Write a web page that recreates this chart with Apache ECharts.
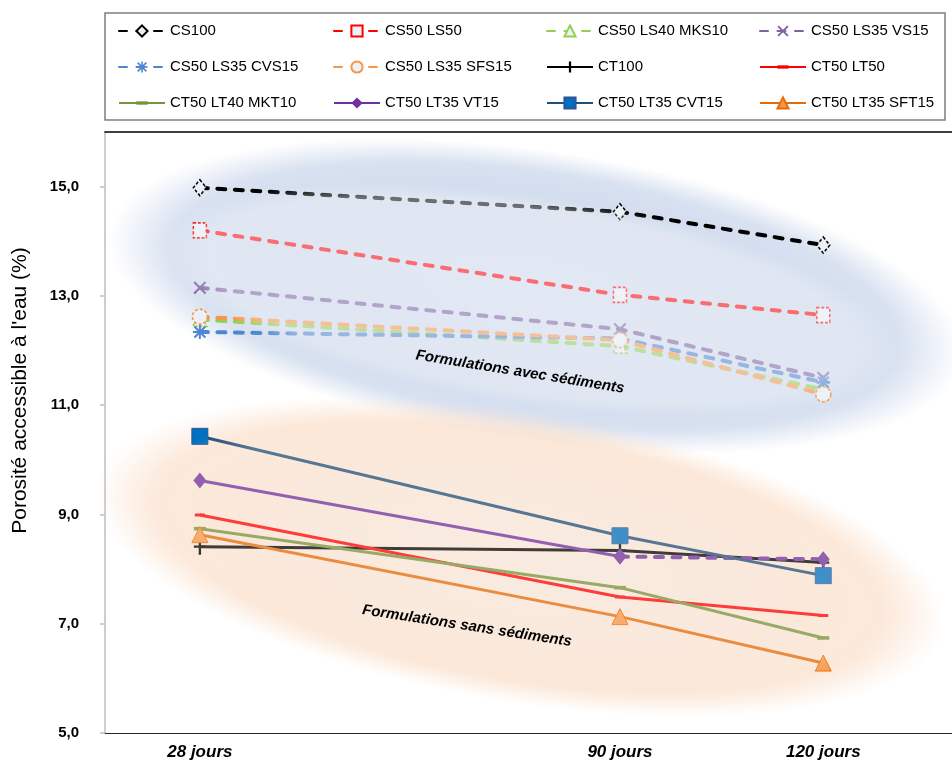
<!DOCTYPE html>
<html><head><meta charset="utf-8">
<script src="https://cdn.jsdelivr.net/npm/echarts@6/dist/echarts.min.js"></script>
<style>html,body{margin:0;padding:0;background:#fff}#main{width:952px;height:763px}</style>
</head><body><div id="main"></div>
<script>
// ---- data ----
const days = [28, 90, 120];
const xTickLabels = ['28 jours', '90 jours', '120 jours'];
const yTicks = [5, 7, 9, 11, 13, 15];
const yAxisTitle = "Porosité accessible à l'eau (%)";
const groupLabels = ['Formulations avec sédiments', 'Formulations sans sédiments'];

const cs100         = [14.98, 14.54, 13.93];
const cs50ls50      = [14.20, 13.02, 12.65];
const cs50ls40mks10 = [12.57, 12.08, 11.29];
const cs50ls35vs15  = [13.15, 12.39, 11.50];
const cs50ls35cvs15 = [12.34, 12.22, 11.42];
const cs50ls35sfs15 = [12.62, 12.19, 11.20];
const ct100         = [8.41, 8.34, 8.12];
const ct50lt50      = [8.99, 7.49, 7.15];
const ct50lt40mkt10 = [8.74, 7.66, 6.74];
const ct50lt35vt15  = [9.62, 8.23, 8.18];
const ct50lt35cvt15 = [10.43, 8.61, 7.88];
const ct50lt35sft15 = [8.63, 7.13, 6.28];

const names = ['CS100', 'CS50 LS50', 'CS50 LS40 MKS10', 'CS50 LS35 VS15',
  'CS50 LS35 CVS15', 'CS50 LS35 SFS15', 'CT100', 'CT50 LT50',
  'CT50 LT40 MKT10', 'CT50 LT35 VT15', 'CT50 LT35 CVT15', 'CT50 LT35 SFT15'];

// ---- helpers ----
const pts = (vals, idx) => (idx || [0, 1, 2]).map(i => [days[i], vals[i]]);
const FONT = '"Liberation Sans", Arial, sans-serif';
const X_PATH = 'path://M0,1.2L1.2,0L10,8.8L8.8,10Z M8.8,0L10,1.2L1.2,10L0,8.8Z';
const STAR_PATH = 'path://M4.3,0h1.4v10h-1.4z M0,4.3h10v1.4h-10z M0.6,1.6L1.6,0.6L9.4,8.4L8.4,9.4Z M8.4,0.6L9.4,1.6L1.6,9.4L0.6,8.4Z';
const PLUS_PATH = 'path://M4.2,0h1.6v10h-1.6z M1,4.3h8v1.4h-8z';
const BAR_PATH = 'path://M0,0M0,3.5h10v3h-10zM10,10';
const HOLLOW = 'rgba(236,241,248,1)';
const dashLine = c => ({ color: c, width: 4, type: [8, 9.5], cap: 'round' });
const solidLine = c => ({ color: c, width: 3 });

function S(name, data, symbol, size, lineStyle, itemStyle, z) {
  return { type: 'line', name, data, symbol, symbolSize: size, showSymbol: true,
    lineStyle, itemStyle, z: z || 2, animation: false, emphasis: { disabled: true } };
}
const hollow = c => ({ color: HOLLOW, borderColor: c, borderWidth: 1.6, borderType: [3, 2] });

const series = [
  S(names[0], pts(cs100), 'diamond', [13, 16], dashLine('#000000'), hollow('#000000')),
  S(names[1], pts(cs50ls50), 'rect', [13, 15], dashLine('#ff0000'), hollow('#ff0000')),
  S(names[2], pts(cs50ls40mks10), 'triangle', 14, dashLine('#92d050'), hollow('#92d050')),
  S(names[3], pts(cs50ls35vs15), X_PATH, 13, dashLine('#8064a2'), { color: '#8064a2' }),
  S(names[4], pts(cs50ls35cvs15), STAR_PATH, 14, dashLine('#4f86d0'), { color: '#4f86d0' }),
  S(names[5], pts(cs50ls35sfs15), 'circle', 15, dashLine('#f79646'), hollow('#f79646')),
  S(names[6], pts(ct100), PLUS_PATH, [12, 16], solidLine('#000000'), { color: '#000000' }),
  S(names[7], pts(ct50lt50), BAR_PATH, 10, solidLine('#ff0000'), { color: '#ff0000' }),
  S(names[8], pts(ct50lt40mkt10), BAR_PATH, 12, solidLine('#77933c'), { color: '#77933c' }),
  S(names[9], pts(ct50lt35vt15, [0, 1]), 'diamond', [13, 16], solidLine('#7030a0'), { color: '#7030a0' }),
  S(names[9], pts(ct50lt35vt15, [1, 2]), 'diamond', [13, 16], { color: '#7030a0', width: 4, type: [8, 9.5], cap: 'round' }, { color: '#7030a0' }),
  S(names[10], pts(ct50lt35cvt15), 'rect', 16, solidLine('#1f4e79'), { color: '#0070c0', borderColor: '#2f5597', borderWidth: 1 }, 3),
  S(names[11], pts(ct50lt35sft15), 'triangle', 16, solidLine('#e46c0a'), { color: '#f79646', borderColor: '#e46c0a', borderWidth: 1 })
];

// legend: four vertical columns inside one framed box
const colLeft = [118, 333, 546, 759];
const legends = colLeft.map((x, c) => ({
  data: [names[c], names[c + 4], names[c + 8]],
  left: x, top: 23, padding: 0,
  orient: 'vertical',
  itemWidth: 46, itemHeight: 14, itemGap: 20,
  textStyle: { fontSize: 15, lineHeight: 16, color: '#000', fontFamily: FONT },
  selectedMode: false
}));

const radial = stops => new echarts.graphic.RadialGradient(0.5, 0.5, 0.5, stops);
function ell(cx, cy, a, b, rot, fill, z) {
  return { type: 'circle', shape: { cx: 0, cy: 0, r: 100 }, x: cx, y: cy,
    scaleX: a / 100, scaleY: b / 100, rotation: rot, style: { fill }, z, silent: true };
}

const option = {
  backgroundColor: '#ffffff',
  animation: false,
  textStyle: { fontFamily: FONT },
  grid: { left: 105, top: 132, right: 0, bottom: 30, containLabel: false, outerBoundsMode: 'none' },
  legend: legends,
  xAxis: [{
    type: 'value', min: 14, max: 139, position: 'bottom',
    axisLine: { show: true, lineStyle: { color: '#262626', width: 1.2 } },
    axisTick: { show: false },
    splitLine: { show: false },
    axisLabel: {
      customValues: days, margin: 11,
      formatter: v => xTickLabels[days.indexOf(v)] || '',
      fontSize: 17, fontWeight: 'bold', fontStyle: 'italic', color: '#000', fontFamily: FONT
    }
  }, {
    type: 'value', min: 14, max: 139, position: 'top',
    axisLine: { show: true, onZero: false, lineStyle: { color: '#000', width: 1.5 } },
    axisTick: { show: false }, axisLabel: { show: false }, splitLine: { show: false }
  }],
  yAxis: {
    type: 'value', min: 5, max: 16,
    axisLine: { show: true, lineStyle: { color: '#bfbfbf', width: 1.5 } },
    axisTick: { show: true, customValues: yTicks, length: 5, lineStyle: { color: '#bfbfbf', width: 1.5 } },
    splitLine: { show: false },
    axisLabel: {
      customValues: yTicks, margin: 26,
      formatter: v => v.toFixed(1).replace('.', ','),
      fontSize: 15, fontWeight: 'bold', color: '#000', fontFamily: FONT
    },
    name: yAxisTitle, nameLocation: 'middle', nameGap: 74, nameRotate: 90,
    nameTextStyle: { fontSize: 21, color: '#000', fontFamily: FONT, padding: [0, 0, 0, 84] }
  },
  graphic: [
    { type: 'rect', shape: { x: 105, y: 13, width: 840, height: 107 },
      style: { fill: '#fff', stroke: '#7f7f7f', lineWidth: 1.5 }, z: -5, silent: true },
    ell(536, 296, 432, 146, -0.148, radial([
      { offset: 0, color: 'rgba(215,224,239,1)' },
      { offset: 0.65, color: 'rgba(209,220,237,1)' },
      { offset: 0.85, color: 'rgba(204,216,236,0.75)' },
      { offset: 1, color: 'rgba(204,216,236,0)' }]), 0),
    ell(520, 557, 430, 145, -0.166, radial([
      { offset: 0, color: 'rgba(249,234,224,1)' },
      { offset: 0.65, color: 'rgba(250,231,216,1)' },
      { offset: 0.85, color: 'rgba(251,224,203,0.75)' },
      { offset: 1, color: 'rgba(251,224,203,0)' }]), 0),
    ell(530, 300, 370, 105, -0.148, radial([
      { offset: 0, color: 'rgba(240,243,249,0.45)' },
      { offset: 0.88, color: 'rgba(240,243,249,0.45)' },
      { offset: 1, color: 'rgba(240,243,249,0)' }]), 10),
    ell(520, 557, 395, 122, -0.166, radial([
      { offset: 0, color: 'rgba(250,238,228,0.25)' },
      { offset: 0.88, color: 'rgba(250,238,228,0.25)' },
      { offset: 1, color: 'rgba(250,238,228,0)' }]), 10),
    { type: 'text', x: 520, y: 372, rotation: -0.16, z: 12, silent: true,
      style: { text: groupLabels[0], fontSize: 15, fontWeight: 'bold', fontStyle: 'italic',
        fontFamily: FONT, fill: '#000', align: 'center', verticalAlign: 'middle' } },
    { type: 'text', x: 467, y: 626, rotation: -0.152, z: 12, silent: true,
      style: { text: groupLabels[1], fontSize: 15, fontWeight: 'bold', fontStyle: 'italic',
        fontFamily: FONT, fill: '#000', align: 'center', verticalAlign: 'middle' } }
  ],
  series
};

const chart = echarts.init(document.getElementById('main'), null, { renderer: 'canvas' });
chart.setOption(option);
</script></body></html>
